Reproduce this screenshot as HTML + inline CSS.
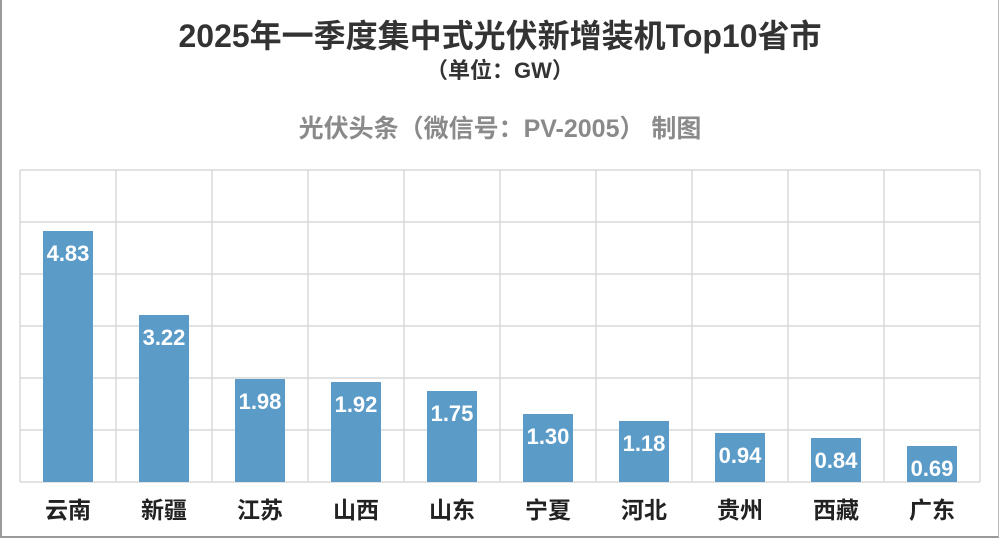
<!DOCTYPE html>
<html><head><meta charset="utf-8"><style>
body{margin:0;width:1000px;height:540px;background:#fff;overflow:hidden}
.f{position:absolute;left:0;top:0;width:996px;height:536px;border:2px solid #9a9a9a;border-top:none;border-right:1px solid #bbb}
</style></head><body>
<div class="f"></div>
<svg width="1000" height="540" style="position:absolute;left:0;top:0" font-family="Liberation Sans, Noto Sans CJK SC, sans-serif">
<text x="500" y="47" text-anchor="middle" font-size="32" font-weight="bold" fill="#333">2025年一季度集中式光伏新增装机Top10省市</text>
<text x="500" y="78" text-anchor="middle" font-size="22" font-weight="bold" fill="#333">（单位：GW）</text>
<text x="500" y="137" text-anchor="middle" font-size="25" font-weight="bold" fill="#8a8a8a">光伏头条（微信号：PV-2005） 制图</text>
<g stroke="#d9d9d9" stroke-width="1.5">
<line x1="20" y1="170" x2="980" y2="170"/><line x1="20" y1="222" x2="980" y2="222"/><line x1="20" y1="274" x2="980" y2="274"/><line x1="20" y1="326" x2="980" y2="326"/><line x1="20" y1="378" x2="980" y2="378"/><line x1="20" y1="430" x2="980" y2="430"/><line x1="20" y1="482" x2="980" y2="482"/>
<line x1="20" y1="170" x2="20" y2="482"/><line x1="116" y1="170" x2="116" y2="482"/><line x1="212" y1="170" x2="212" y2="482"/><line x1="308" y1="170" x2="308" y2="482"/><line x1="404" y1="170" x2="404" y2="482"/><line x1="500" y1="170" x2="500" y2="482"/><line x1="596" y1="170" x2="596" y2="482"/><line x1="692" y1="170" x2="692" y2="482"/><line x1="788" y1="170" x2="788" y2="482"/><line x1="884" y1="170" x2="884" y2="482"/><line x1="980" y1="170" x2="980" y2="482"/>
</g>
<g fill="#5b9bc8">
<rect x="43" y="231" width="50" height="251"/><rect x="139" y="315" width="50" height="167"/><rect x="235" y="379" width="50" height="103"/><rect x="331" y="382" width="50" height="100"/><rect x="427" y="391" width="50" height="91"/><rect x="523" y="414" width="50" height="68"/><rect x="619" y="421" width="50" height="61"/><rect x="715" y="433" width="50" height="49"/><rect x="811" y="438" width="50" height="44"/><rect x="907" y="446" width="50" height="36"/>
</g>
<g fill="#fff" font-size="22" font-weight="bold" text-anchor="middle">
<text x="68" y="261">4.83</text><text x="164" y="345">3.22</text><text x="260" y="409">1.98</text><text x="356" y="412">1.92</text><text x="452" y="421">1.75</text><text x="548" y="444">1.30</text><text x="644" y="451">1.18</text><text x="740" y="463">0.94</text><text x="836" y="468">0.84</text><text x="932" y="476">0.69</text>
</g>
<g fill="#222" font-size="23" font-weight="bold" text-anchor="middle">
<text x="68" y="518">云南</text><text x="164" y="518">新疆</text><text x="260" y="518">江苏</text><text x="356" y="518">山西</text><text x="452" y="518">山东</text><text x="548" y="518">宁夏</text><text x="644" y="518">河北</text><text x="740" y="518">贵州</text><text x="836" y="518">西藏</text><text x="932" y="518">广东</text>
</g>
</svg>
</body></html>
